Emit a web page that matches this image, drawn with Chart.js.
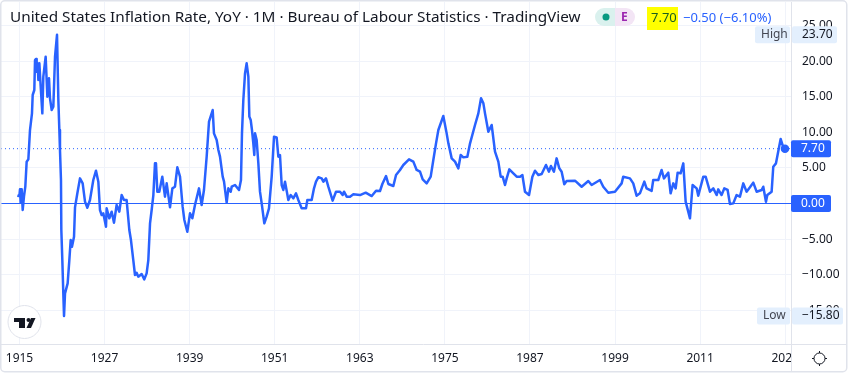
<!DOCTYPE html>
<html>
<head>
<meta charset="utf-8">
<title>United States Inflation Rate</title>
<script src="https://cdn.jsdelivr.net/npm/chart.js@4"></script>
<style>
  html, body { margin: 0; padding: 0; background: #fff; }
  canvas { display: block; }
</style>
</head>
<body>
<canvas id="inflationChart" width="849" height="373"></canvas>
<script>
const years = [
  1914.69, 1914.98, 1915.07, 1915.16, 1915.31, 1915.45, 1915.63, 1915.82, 1916.01, 1916.25, 1916.48, 1916.76, 1916.86, 1917.09, 1917.19, 1917.33, 1917.42, 1917.56, 1917.66, 1917.80, 1917.99, 1918.22, 1918.36, 1918.69, 1918.93, 1919.16, 1919.30, 1919.54, 1919.77, 1920.01, 1920.29, 1920.48, 1920.62, 1920.71, 1920.85, 1920.90, 1921.04, 1921.18, 1921.28, 1921.42, 1921.79, 1922.03, 1922.22, 1922.40, 1922.69, 1922.83, 1923.16, 1923.53, 1923.91, 1924.24, 1924.57, 1924.94,
  1925.41, 1925.79, 1926.12, 1926.35, 1926.59, 1926.82, 1927.20, 1927.29, 1927.67, 1928.00, 1928.33, 1928.70, 1929.08, 1929.41, 1929.74, 1930.11, 1930.49, 1930.72, 1931.05, 1931.29, 1931.52, 1931.76, 1932.23, 1932.60, 1932.93, 1933.17, 1933.41, 1933.64, 1933.88, 1934.11, 1934.25, 1934.44, 1934.72, 1935.14, 1935.52, 1935.76, 1936.23, 1936.56, 1936.93, 1937.26, 1937.64, 1938.01, 1938.25, 1938.67, 1939.05, 1939.38, 1939.75,
  1940.32, 1940.69, 1941.02, 1941.40, 1941.73, 1942.25, 1942.43, 1942.81, 1943.05, 1943.28, 1943.66, 1943.85, 1944.22, 1944.46, 1944.79, 1944.93, 1945.40, 1945.96, 1946.24, 1946.38, 1946.57, 1946.81, 1947.04, 1947.28, 1947.42, 1947.61, 1947.79, 1947.98, 1948.12, 1948.22, 1948.45, 1948.69, 1948.92, 1949.16, 1949.53, 1949.86,
  1950.19, 1950.57, 1950.90, 1951.27, 1951.51, 1951.74, 1951.98, 1952.21, 1952.45, 1952.92, 1953.25, 1953.62, 1954.00, 1954.33, 1954.80, 1955.41, 1955.60, 1956.21, 1956.54, 1956.82, 1957.15, 1957.62, 1957.86, 1958.23, 1958.56, 1959.17, 1959.64, 1960.21, 1960.58, 1960.77, 1961.15, 1961.62, 1962.09, 1963.03, 1963.83, 1964.68, 1965.29, 1965.85, 1966.18, 1966.70, 1967.03, 1967.73, 1968.11, 1968.67, 1969.14, 1969.94,
  1970.55, 1971.02, 1971.49, 1971.87, 1972.43, 1973.00, 1973.37, 1973.75, 1974.08, 1974.78, 1975.25, 1975.49, 1975.96, 1976.43, 1976.90, 1977.23, 1977.60, 1978.17, 1978.55, 1979.25, 1979.72, 1980.10, 1980.43, 1980.66, 1981.13, 1981.60, 1982.07, 1982.54, 1982.87, 1983.15, 1983.48, 1983.72, 1984.09, 1984.66, 1985.13, 1985.60, 1985.93, 1986.30, 1986.87, 1987.34, 1987.71, 1988.18, 1988.65, 1989.26, 1989.68, 1989.96,
  1990.38, 1990.76, 1991.14, 1991.47, 1991.84, 1992.17, 1993.35, 1994.29, 1995.23, 1995.70, 1996.87, 1997.34, 1998.05, 1998.99, 1999.93, 2000.16, 2001.10, 2001.57, 2002.04, 2002.51, 2003.13, 2003.45, 2004.16, 2004.39, 2005.10, 2005.57, 2005.90, 2006.51, 2006.84, 2007.22, 2007.55, 2007.83, 2008.25, 2008.63, 2008.96, 2009.57, 2009.94,
  2010.51, 2010.74, 2011.45, 2011.78, 2012.39, 2012.86, 2013.33, 2013.56, 2014.03, 2014.41, 2014.88, 2015.21, 2015.68, 2016.15, 2016.62, 2017.09, 2017.56, 2018.03, 2018.50, 2018.97, 2019.68, 2019.91, 2020.29, 2020.48, 2021.09, 2021.32, 2021.70, 2022.36, 2022.73, 2022.97
];
const inflation = [
  1.10, 1.05, 1.99, 0.12, 1.99, -0.91, 0.96, 2.36, 5.88, 6.20, 10.32, 12.66, 15.24, 15.94, 20.15, 20.30, 18.52, 19.69, 17.35, 19.69, 16.41, 12.66, 17.81, 20.62, 15.00, 17.58, 14.77, 13.13, 13.60, 20.62, 23.70, 14.54, 10.32, 7.51, 3.30, -3.72, -7.94, -12.62, -15.80, -12.62, -11.21, -7.94, -5.13, -6.06, -4.66, -0.54, 1.43, 3.53, 2.83, 0.26, -0.59, 0.49,
  3.30, 4.61, 3.07, -0.91, -1.62, -1.38, -3.25, -0.68, -2.08, -1.15, -2.69, -0.21, -1.15, 1.19, 0.49, 0.49, -3.72, -5.13, -7.94, -10.04, -9.72, -10.28, -9.90, -10.65, -9.81, -7.94, -2.79, -0.91, 1.19, 5.64, 5.64, 1.66, 1.66, 3.77, 0.96, 2.83, -0.54, 2.13, 2.36, 5.08, 3.77, -0.44, -2.32, -3.96, -1.38, -2.08, -0.21,
  2.13, -0.21, 1.90, 6.58, 11.49, 13.13, 9.85, 8.92, 7.51, 6.58, 3.77, 3.07, 0.12, 2.13, 1.66, 2.36, 2.60, 1.90, 3.30, 9.85, 14.54, 18.28, 19.69, 17.81, 12.20, 11.73, 10.32, 8.45, 6.81, 9.85, 8.92, 5.64, 1.66, 0.02, -2.79, -1.85,
  -0.68, 3.77, 9.39, 9.29, 6.58, 6.81, 2.60, 1.90, 3.07, 0.49, 1.19, 0.73, 1.43, 0.49, -0.68, -0.68, 0.49, 0.49, 2.13, 3.07, 3.68, 3.53, 3.07, 3.53, 2.36, 0.40, 1.66, 1.66, 1.19, 1.66, 0.96, 0.96, 1.29, 1.19, 1.52, 1.05, 1.80, 1.76, 2.74, 3.86, 2.74, 2.46, 4.00, 4.71, 5.41, 6.20,
  5.88, 4.71, 4.47, 3.39, 2.83, 3.77, 6.11, 8.45, 10.32, 12.29, 9.85, 8.45, 6.34, 5.88, 4.94, 6.81, 6.48, 6.58, 8.45, 11.03, 12.66, 14.77, 14.07, 12.66, 10.09, 11.03, 7.28, 5.88, 3.77, 3.77, 2.60, 3.53, 4.80, 4.24, 3.77, 3.77, 4.00, 1.66, 1.19, 3.77, 4.61, 4.00, 4.14, 5.41, 4.47, 5.27,
  4.47, 6.34, 4.94, 4.47, 2.69, 3.16, 3.21, 2.36, 3.16, 2.60, 3.30, 2.36, 1.52, 1.66, 2.83, 3.77, 3.53, 2.83, 1.10, 1.43, 3.07, 2.13, 1.76, 3.30, 3.30, 4.71, 3.53, 4.33, 1.43, 2.83, 2.13, 4.33, 4.24, 5.64, 0.26, -2.08, 2.60,
  2.13, 1.10, 3.77, 3.77, 1.66, 2.13, 1.19, 1.99, 1.19, 2.13, 1.90, -0.07, 0.02, 1.19, 0.96, 2.83, 1.66, 2.27, 2.93, 1.66, 1.90, 2.36, 0.26, 1.19, 1.66, 5.17, 5.64, 9.06, 7.89, 7.70
];
const yearTicks = [1915, 1927, 1939, 1951, 1963, 1975, 1987, 1999, 2011, 2023];
const rateTicks = [25, 20, 15, 10, 5, 0, -5, -10, -15];
const lastValue = 7.70;
const zeroValue = 0;
const highValue = 23.70;
const lowValue = -15.80;
const xRange = [1912.39, 2023.82];
const yRange = [-19.73, 28.30];

const BLUE = '#2962ff';
const GRID = '#f0f3fa';
const EDGE = '#e0e3eb';
const TEXT = '#131722';
const FONT = '"Noto Sans", sans-serif';

function fmt(v) {
    return v.toFixed(2).replace('-', '\u2212');
}

function box(ctx, x, y, w, h, r, color) {
    ctx.fillStyle = color;
    ctx.beginPath();
    ctx.roundRect(x, y, w, h, r);
    ctx.fill();
}

function label(ctx, text, x, y, color, font) {
    ctx.fillStyle = color;
    ctx.font = font;
    ctx.textAlign = 'left';
    ctx.textBaseline = 'middle';
    ctx.fillText(text, x, y);
}

// the scales must not reserve room for half a tick label
function noPadding(axis) {
    axis.paddingLeft = 0;
    axis.paddingRight = 0;
    axis.paddingTop = 0;
    axis.paddingBottom = 0;
}

// everything TradingView paints around the plot
const decorations = {
    id: 'decorations',
    afterDraw(chart) {
        const ctx = chart.ctx;
        const y = chart.scales.y;
        ctx.save();

        // cut the last date label at the price scale
        ctx.fillStyle = '#fff';
        ctx.fillRect(792, 345, 54, 26);

        // card frame
        ctx.strokeStyle = EDGE;
        ctx.lineWidth = 1.5;
        ctx.beginPath();
        ctx.roundRect(0.75, 0.75, 846, 371, 4);
        ctx.stroke();
        ctx.lineWidth = 1;
        ctx.beginPath();
        ctx.moveTo(791.5, 2);
        ctx.lineTo(791.5, 371);
        ctx.moveTo(1, 344.5);
        ctx.lineTo(846, 344.5);
        ctx.stroke();

        // header
        label(ctx, 'United States Inflation Rate, YoY \u00b7 1M \u00b7 Bureau of Labour Statistics \u00b7 TradingView', 10, 17.5, TEXT, '15.3px ' + FONT);
        box(ctx, 595, 8, 24, 18, [9, 0, 0, 9], '#daf1ee');
        box(ctx, 615, 8, 20, 18, [0, 9, 9, 0], '#f3e5f5');
        ctx.fillStyle = '#089981';
        ctx.beginPath();
        ctx.arc(606, 17, 3.5, 0, Math.PI * 2);
        ctx.fill();
        label(ctx, 'E', 621, 17.5, '#9c27b0', 'bold 12px ' + FONT);
        ctx.fillStyle = '#ffff00';
        ctx.fillRect(647, 7, 31, 23);
        label(ctx, fmt(lastValue), 651, 18.5, '#1b5e20', '13px ' + FONT);
        label(ctx, '\u22120.50 (\u22126.10%)', 683, 18.5, BLUE, '13px ' + FONT);

        // price scale tags
        const highY = y.getPixelForValue(highValue);
        box(ctx, 755, highY - 8.5, 35, 17, 2, '#e3effd');
        box(ctx, 792, highY - 8.5, 45, 17, 2, '#e3effd');
        label(ctx, 'High', 761, highY, '#434651', '12px ' + FONT);
        label(ctx, fmt(highValue), 802, highY, TEXT, '12px ' + FONT);

        const lowY = y.getPixelForValue(lowValue);
        box(ctx, 757, lowY - 8.5, 33, 17, 2, '#e3effd');
        box(ctx, 792, lowY - 8.5, 51, 17, 2, '#e3effd');
        label(ctx, 'Low', 763, lowY, '#434651', '12px ' + FONT);
        label(ctx, fmt(lowValue), 802, lowY, TEXT, '12px ' + FONT);

        const lastY = y.getPixelForValue(lastValue);
        box(ctx, 791, lastY - 8.5, 40, 17, 2, BLUE);
        label(ctx, fmt(lastValue), 801, lastY, '#fff', '12px ' + FONT);

        const zeroY = y.getPixelForValue(zeroValue);
        box(ctx, 791, zeroY - 8.5, 40, 17, 2, BLUE);
        label(ctx, fmt(zeroValue), 801, zeroY, '#fff', '12px ' + FONT);

        // logo badge
        ctx.fillStyle = '#fff';
        ctx.strokeStyle = EDGE;
        ctx.beginPath();
        ctx.arc(24.5, 322, 16.5, 0, Math.PI * 2);
        ctx.fill();
        ctx.stroke();
        ctx.fillStyle = TEXT;
        ctx.fillRect(14, 318, 11, 4);
        ctx.fillRect(19, 318, 6, 10);
        ctx.beginPath();
        ctx.arc(28.5, 320, 2, 0, Math.PI * 2);
        ctx.fill();
        ctx.beginPath();
        ctx.moveTo(31, 318);
        ctx.lineTo(35.5, 318);
        ctx.lineTo(31, 328);
        ctx.lineTo(26.5, 328);
        ctx.closePath();
        ctx.fill();

        // settings icon
        ctx.strokeStyle = TEXT;
        ctx.beginPath();
        ctx.arc(819.5, 358.5, 5.5, 0, Math.PI * 2);
        ctx.moveTo(819.5, 351);
        ctx.lineTo(819.5, 353);
        ctx.moveTo(819.5, 364);
        ctx.lineTo(819.5, 366);
        ctx.moveTo(812, 358.5);
        ctx.lineTo(814, 358.5);
        ctx.moveTo(825, 358.5);
        ctx.lineTo(827, 358.5);
        ctx.stroke();

        ctx.restore();
    }
};

const ctx = document.getElementById('inflationChart').getContext('2d');

new Chart(ctx, {
    type: 'line',
    data: {
        datasets: [
            {
                label: 'Zero',
                data: xRange.map(x => ({ x: x, y: zeroValue })),
                borderColor: BLUE,
                borderWidth: 1,
                pointRadius: 0
            },
            {
                label: 'Last',
                data: xRange.map(x => ({ x: x, y: lastValue })),
                borderColor: BLUE,
                borderWidth: 1,
                borderDash: [1, 3],
                pointRadius: 0
            },
            {
                label: 'United States Inflation Rate, YoY',
                data: years.map((yr, i) => ({ x: yr, y: inflation[i] })),
                borderColor: BLUE,
                backgroundColor: BLUE,
                borderWidth: 2.5,
                borderJoinStyle: 'round',
                tension: 0,
                pointRadius: ctx => ctx.dataIndex === years.length - 1 ? 3 : 0
            }
        ]
    },
    options: {
        responsive: false,
        animation: false,
        layout: { autoPadding: false, padding: { left: 1, top: 2, right: 0, bottom: 0 } },
        plugins: {
            legend: { display: false },
            title: { display: false },
            tooltip: { enabled: false }
        },
        scales: {
            x: {
                type: 'linear',
                min: xRange[0],
                max: xRange[1],
                afterBuildTicks: axis => { axis.ticks = yearTicks.map(v => ({ value: v })); },
                afterFit: axis => { axis.height = 29; noPadding(axis); },
                grid: { color: GRID, drawTicks: false },
                border: { display: false },
                ticks: {
                    autoSkip: false,
                    maxRotation: 0,
                    padding: 7,
                    color: TEXT,
                    font: { family: FONT, size: 12 },
                    callback: v => String(v)
                }
            },
            y: {
                position: 'right',
                min: yRange[0],
                max: yRange[1],
                afterBuildTicks: axis => { axis.ticks = rateTicks.map(v => ({ value: v })); },
                afterFit: axis => { axis.width = 58; noPadding(axis); },
                grid: { color: GRID, drawTicks: false },
                border: { display: false },
                ticks: {
                    crossAlign: 'near',
                    padding: 11,
                    color: TEXT,
                    font: { family: FONT, size: 12 },
                    callback: v => fmt(v)
                }
            }
        }
    },
    plugins: [decorations]
});
</script>
</body>
</html>
